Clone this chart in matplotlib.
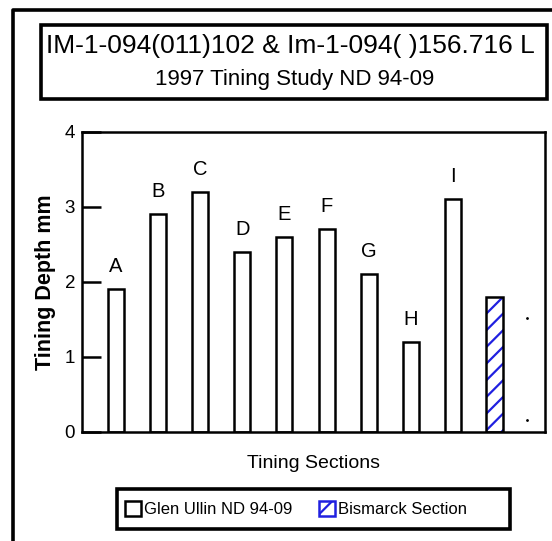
import matplotlib
matplotlib.use('Agg')
import matplotlib.pyplot as plt
from matplotlib.patches import Rectangle, Patch
from matplotlib.lines import Line2D

plt.rcParams['font.family'] = ['Liberation Sans', 'DejaVu Sans']
plt.rcParams['hatch.linewidth'] = 1.6

# data
sections = ['A', 'B', 'C', 'D', 'E', 'F', 'G', 'H', 'I']
glen_ullin = [1.9, 2.9, 3.2, 2.4, 2.6, 2.7, 2.1, 1.2, 3.1]
bismarck = [1.8]
stray_x = [9.76, 9.76]
stray_y = [1.52, 0.16]

title1 = 'IM-1-094(011)102 & Im-1-094( )156.716 L'
title2 = '1997 Tining Study ND 94-09'

fig = plt.figure(figsize=(5.52, 5.41), dpi=100)
ax = fig.add_axes([0.1486, 0.2020, 0.8387, 0.5546])

pos = list(range(len(sections)))
ax.bar(pos, glen_ullin, width=0.38, color='white', edgecolor='black', linewidth=1.8)
for x, v, s in zip(pos, glen_ullin, sections):
    ax.text(x, v + 0.3, s, ha='center', va='center', fontsize=14.5)

bx = [len(sections)]
ax.bar(bx, bismarck, width=0.4, color='white', edgecolor='#2020e0', hatch='//', linewidth=0)
ax.bar(bx, bismarck, width=0.4, color='none', edgecolor='black', linewidth=1.8)
ax.plot(stray_x, stray_y, 'k.', markersize=2)

ax.set_xlim(-0.81, 10.19)
ax.set_ylim(0, 4)
ax.set_yticks([0, 1, 2, 3, 4])
ax.set_xticks([])
ax.tick_params(axis='y', direction='in', length=14, width=1.8, labelsize=13.5, pad=5)
for sp in ax.spines.values():
    sp.set_linewidth(1.8)
ax.set_xlabel('Tining Sections', fontsize=14, labelpad=17)
ax.set_ylabel('Tining Depth mm', fontsize=15.5, fontweight='bold', labelpad=6)

# outer frame (clipped by figure edge)
fig.add_artist(Line2D([13/552, 13/552, 1.01], [-0.01, 1 - 9.5/541, 1 - 9.5/541],
                      transform=fig.transFigure, color='black', linewidth=2.6))

# title box
fig.add_artist(Rectangle((41/552, 1 - 99/541), 506/552, 74/541, transform=fig.transFigure,
                         facecolor='none', edgecolor='black', linewidth=2.6))
fig.text(290/552, 1 - 46/541, title1, ha='center', va='center', fontsize=19)
fig.text(295/552, 1 - 80/541, title2, ha='center', va='center', fontsize=16)

# legend box
fig.add_artist(Rectangle((117/552, 1 - 529/541), 393/552, 40/541, transform=fig.transFigure,
                         facecolor='none', edgecolor='black', linewidth=2.6))
handles = [Patch(facecolor='white', edgecolor='black', linewidth=1.8, label='Glen Ullin ND 94-09'),
           Patch(facecolor='white', edgecolor='#2020e0', hatch='/', linewidth=1.8, label='Bismarck Section')]
fig.legend(handles=handles, loc='center', bbox_to_anchor=(296/552, 1 - 509/541), ncol=2,
           frameon=False, fontsize=12, handlelength=0.95, handleheight=1.0,
           handletextpad=0.2, columnspacing=1.6)

fig.savefig('out.png', dpi=100)
